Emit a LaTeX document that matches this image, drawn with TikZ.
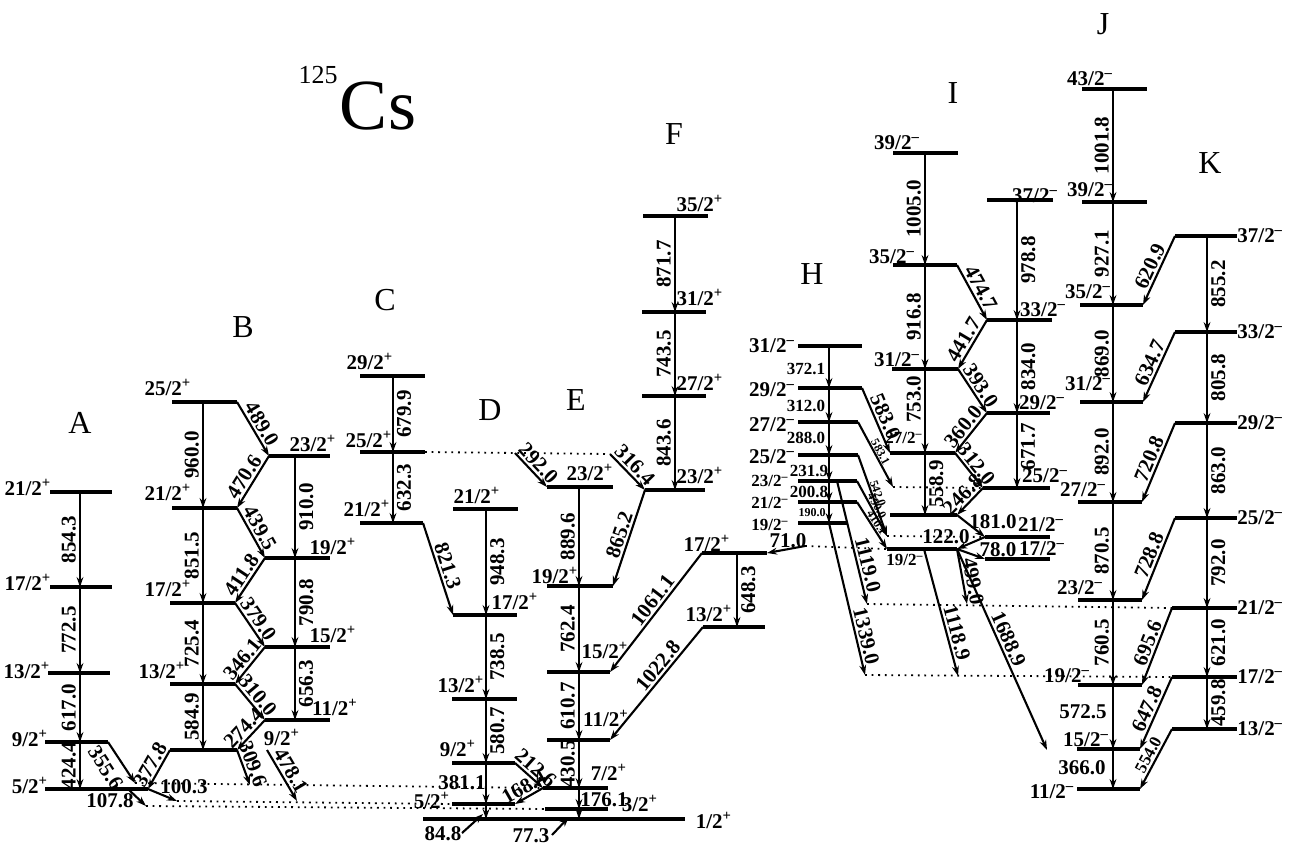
\documentclass[tikz,border=0pt]{standalone}
\usepackage{fontspec}
\setmainfont{Liberation Serif}
\usetikzlibrary{arrows.meta}

\newcommand{\elab}{\bfseries\fontsize{10.5}{10.5}\selectfont}
\newcommand{\slab}{\bfseries\fontsize{10.5}{10.5}\selectfont}
\newcommand{\hlab}{\bfseries\fontsize{8.5}{8.5}\selectfont}
\newcommand{\mlab}{\bfseries\fontsize{6}{6}\selectfont}
\newcommand{\jpos}[1]{#1\textsuperscript{+}}
\newcommand{\jneg}[1]{#1\textsuperscript{--}}
\newcommand{\lvl}[4]{\draw[lev] (#2,#4) coordinate (#1-l) -- (#3,#4) coordinate (#1-r);}

\begin{document}
\begin{tikzpicture}[x=0.5pt, y=-0.5pt,
    lev/.style={line width=1.7pt},
    tr/.style={line width=1.05pt, -{Stealth[length=5pt, width=3.4pt]}},
    dotl/.style={line width=0.9pt, dash pattern=on 0.9pt off 2.4pt},
    vl/.style={midway, rotate=90, anchor=south, inner sep=1.5pt, font=\elab},
    vr/.style={midway, rotate=90, anchor=north, inner sep=1.5pt, font=\elab},
    dl/.style={midway, sloped, above, inner sep=1pt, font=\elab},
    hl/.style={inner sep=0pt, font=\elab},
    sl/.style={inner sep=0pt, font=\slab},
    hs/.style={inner sep=0pt, font=\hlab},
    minil/.style={midway, sloped, above, inner sep=0.3pt, font=\mlab},
    bandname/.style={font=\fontsize{16}{16}\selectfont},
]
\useasboundingbox (0,0) rectangle (1290,846);

% Title and band names
\node (cs) at (378,106) {\fontsize{36}{36}\selectfont Cs};
\node (mass) at (318,75) {\fontsize{13}{13}\selectfont 125};
\node[bandname] (bA) at (80,423) {A};
\node[bandname] (bB) at (243,327) {B};
\node[bandname] (bC) at (385,300) {C};
\node[bandname] (bD) at (490,410) {D};
\node[bandname] (bE) at (576,400) {E};
\node[bandname] (bF) at (674,134) {F};
\node[bandname] (bH) at (812,274) {H};
\node[bandname] (bI) at (953,93) {I};
\node[bandname] (bJ) at (1103,24) {J};
\node[bandname] (bK) at (1210,163) {K};

% Levels
\lvl{A21}{50}{112}{492}
\lvl{A17}{50}{112}{587}
\lvl{A13}{48}{110}{673}
\lvl{A9}{45}{108}{742}
\lvl{A5}{45}{148}{789}
\lvl{B25}{172}{237}{402}
\lvl{B21}{172}{237}{508}
\lvl{B17}{170}{235}{603}
\lvl{B13}{170}{235}{684}
\lvl{B9}{170}{237}{750}
\lvl{B23}{269}{330}{456}
\lvl{B19}{265}{330}{558}
\lvl{B15}{265}{330}{647}
\lvl{B11}{265}{330}{720}
\lvl{C29}{360}{425}{376}
\lvl{C25}{360}{425}{452}
\lvl{C21}{360}{423}{523}
\lvl{D21}{453}{518}{509}
\lvl{D17}{453}{517}{615}
\lvl{D13}{452}{517}{699}
\lvl{D9}{452}{515}{763}
\lvl{D5}{452}{515}{804}
\lvl{G1}{423}{685}{819}
\lvl{E23}{547}{613}{487}
\lvl{E19}{547}{613}{586}
\lvl{E15}{547}{610}{672}
\lvl{E11}{547}{610}{740}
\lvl{E7}{543}{608}{788}
\lvl{E3}{545}{608}{809}
\lvl{F35}{643}{708}{216}
\lvl{F31}{642}{706}{312}
\lvl{F27}{642}{706}{396}
\lvl{F23}{645}{705}{490}
\lvl{P17}{702}{767}{553}
\lvl{P13}{703}{765}{627}
\lvl{H31}{798}{862}{346}
\lvl{H29}{798}{862}{388}
\lvl{H27}{798}{858}{422}
\lvl{H25}{798}{858}{455}
\lvl{H23}{798}{857}{481}
\lvl{H21}{798}{857}{502}
\lvl{H19}{798}{847}{523}
\lvl{I39}{893}{958}{153}
\lvl{I35}{893}{957}{265}
\lvl{I31}{892}{958}{369}
\lvl{I27}{890}{955}{453}
\lvl{I23}{890}{957}{515}
\lvl{I19}{887}{957}{549}
\lvl{I37}{987}{1053}{200}
\lvl{I33}{987}{1052}{320}
\lvl{I29}{987}{1050}{413}
\lvl{I25}{983}{1050}{488}
\lvl{I21}{985}{1050}{537}
\lvl{I17}{985}{1050}{559}
\lvl{J43}{1082}{1147}{89}
\lvl{J39}{1082}{1147}{202}
\lvl{J35}{1080}{1143}{305}
\lvl{J31}{1080}{1143}{402}
\lvl{J27}{1078}{1142}{502}
\lvl{J23}{1078}{1142}{600}
\lvl{J19}{1078}{1142}{685}
\lvl{J15}{1077}{1140}{749}
\lvl{J11}{1077}{1140}{789}
\lvl{K37}{1175}{1237}{236}
\lvl{K33}{1175}{1237}{332}
\lvl{K29}{1175}{1237}{423}
\lvl{K25}{1175}{1237}{518}
\lvl{K21}{1172}{1237}{608}
\lvl{K17}{1172}{1237}{677}
\lvl{K13}{1172}{1237}{729}

% Spin labels
\node[sl] (sA21) at (28,487) {\jpos{21/2}};
\node[sl] (sA17) at (28,582) {\jpos{17/2}};
\node[sl] (sA13) at (27,670) {\jpos{13/2}};
\node[sl] (sA9) at (30,738) {\jpos{9/2}};
\node[sl] (sA5) at (30,785) {\jpos{5/2}};
\node[sl] (sB25) at (168,387) {\jpos{25/2}};
\node[sl] (sB21) at (168,492) {\jpos{21/2}};
\node[sl] (sB17) at (168,588) {\jpos{17/2}};
\node[sl] (sB13) at (162,670) {\jpos{13/2}};
\node[sl] (sB23) at (313,443) {\jpos{23/2}};
\node[sl] (sB19) at (333,546) {\jpos{19/2}};
\node[sl] (sB15) at (333,634) {\jpos{15/2}};
\node[sl] (sB11) at (335,707) {\jpos{11/2}};
\node[sl] (sB9) at (282,737) {\jpos{9/2}};
\node[sl] (sC29) at (370,361) {\jpos{29/2}};
\node[sl] (sC25) at (369,439) {\jpos{25/2}};
\node[sl] (sC21) at (367,508) {\jpos{21/2}};
\node[sl] (sD21) at (477,495) {\jpos{21/2}};
\node[sl] (sD17) at (515,601) {\jpos{17/2}};
\node[sl] (sD13) at (461,684) {\jpos{13/2}};
\node[sl] (sD9) at (458,748) {\jpos{9/2}};
\node[sl] (sD5) at (432,800) {\jpos{5/2}};
\node[sl] (sE23) at (590,472) {\jpos{23/2}};
\node[sl] (sE19) at (555,575) {\jpos{19/2}};
\node[sl] (sE15) at (605,650) {\jpos{15/2}};
\node[sl] (sE11) at (606,718) {\jpos{11/2}};
\node[sl] (sE7) at (609,772) {\jpos{7/2}};
\node[sl] (sE3) at (640,803) {\jpos{3/2}};
\node[sl] (sG1) at (714,820) {\jpos{1/2}};
\node[sl] (sF35) at (700,203) {\jpos{35/2}};
\node[sl] (sF31) at (700,297) {\jpos{31/2}};
\node[sl] (sF27) at (700,382) {\jpos{27/2}};
\node[sl] (sF23) at (700,475) {\jpos{23/2}};
\node[sl] (sP17) at (707,543) {\jpos{17/2}};
\node[sl] (sP13) at (709,613) {\jpos{13/2}};
\node[sl] (sH31) at (772,346) {\jneg{31/2}};
\node[sl] (sH29) at (772,390) {\jneg{29/2}};
\node[sl] (sH27) at (772,425) {\jneg{27/2}};
\node[sl] (sH25) at (772,457) {\jneg{25/2}};
\node[hs] (sH23) at (770,481) {\jneg{23/2}};
\node[hs] (sH21) at (770,503) {\jneg{21/2}};
\node[hs] (sH19) at (770,525) {\jneg{19/2}};
\node[sl] (sI39) at (897,143) {\jneg{39/2}};
\node[sl] (sI35) at (892,257) {\jneg{35/2}};
\node[sl] (sI37) at (1035,196) {\jneg{37/2}};
\node[sl] (sI33) at (1043,310) {\jneg{33/2}};
\node[sl] (sI31) at (897,360) {\jneg{31/2}};
\node[sl] (sI29) at (1042,403) {\jneg{29/2}};
\node[hs] (sI27) at (904,438) {\jneg{27/2}};
\node[sl] (sI25) at (1045,476) {\jneg{25/2}};
\node[sl] (sI21) at (1041,525) {\jneg{21/2}};
\node[hs] (sI19) at (905,560) {\jneg{19/2}};
\node[sl] (sI17) at (1042,549) {\jneg{17/2}};
\node[sl] (sJ43) at (1090,79) {\jneg{43/2}};
\node[sl] (sJ39) at (1090,190) {\jneg{39/2}};
\node[sl] (sJ35) at (1088,292) {\jneg{35/2}};
\node[sl] (sJ31) at (1088,384) {\jneg{31/2}};
\node[sl] (sJ27) at (1083,490) {\jneg{27/2}};
\node[sl] (sJ23) at (1080,588) {\jneg{23/2}};
\node[sl] (sJ19) at (1067,676) {\jneg{19/2}};
\node[sl] (sJ15) at (1086,740) {\jneg{15/2}};
\node[sl] (sJ11) at (1052,792) {\jneg{11/2}};
\foreach \k/\j in {37/37,33/33,29/29,25/25,21/21,17/17,13/13}
  \node[sl, anchor=west] (sK\k) at (K\k-r) {\jneg{\j/2}};

% Band crossings
\coordinate (xA) at (80,0);
\coordinate (xBl) at (203,0);
\coordinate (xBr) at (295,0);
\coordinate (xC) at (393,0);
\coordinate (xD) at (486,0);
\coordinate (xE) at (579,0);
\coordinate (xF) at (675,0);
\coordinate (xP) at (737,0);
\coordinate (xH) at (829,0);
\coordinate (xIl) at (925,0);
\coordinate (xIr) at (1017,0);
\coordinate (xJ) at (1113,0);
\coordinate (xK) at (1207,0);
\coordinate (x1119) at (837,0);
\coordinate (x1118) at (924,0);

% Free ends
\coordinate (q7a) at (135,783);
\coordinate (q7b) at (250,785);
\coordinate (q5a) at (177,801);
\coordinate (q5b) at (297,801);
\coordinate (q3a) at (146,806);
\coordinate (p107) at (128,789);
\coordinate (p478) at (267,750);
\coordinate (q292) at (515,453);
\coordinate (q316) at (610,454);
\coordinate (p848) at (462,833);
\coordinate (q848) at (483,814);
\coordinate (p773) at (552,835);
\coordinate (q773) at (569,817);
\coordinate (q71) at (805,546);
\coordinate (q25a) at (893,487);
\coordinate (q21a) at (887,536);
\coordinate (q23a) at (867,604);
\coordinate (q23b) at (967,604);
\coordinate (q19a) at (865,675);
\coordinate (q19b) at (958,676);
\coordinate (q15a) at (1047,750);

% Dotted links
\draw[dotl] (q7a) -- (E7-l);
\draw[dotl] (q5a) -- (D5-l);
\draw[dotl] (q3a) -- (E3-l);
\draw[dotl] (C25-r) -- (q316);
\draw[dotl] (q71) -- (I19-l);
\draw[dotl] (q25a) -- (I25-l);
\draw[dotl] (q21a) -- (I21-l);
\draw[dotl] (q23a) -- (K21-l);
\draw[dotl] (q19a) -- (K17-l);

% Band A
\draw[tr] (A21-l -| xA) -- (A17-l -| xA) node[vl]{854.3};
\draw[tr] (A17-l -| xA) -- (A13-l -| xA) node[vl]{772.5};
\draw[tr] (A13-l -| xA) -- (A9-l -| xA) node[vl]{617.0};
\draw[tr] (A9-l -| xA) -- (A5-l -| xA) node[vl]{424.4};
\draw[tr] (A9-r) -- (q7a);
\node[hl, rotate=-57] (e3556) at (106,768) {355.6};
\draw[tr] (A5-r) -- (q5a);
\node[hl] (e1003) at (184,787) {100.3};
\draw[tr] (p107) -- (q3a);
\node[hl] (e1078) at (110,801) {107.8};

% Band B
\draw[tr] (B25-l -| xBl) -- (B21-l -| xBl) node[vl]{960.0};
\draw[tr] (B21-l -| xBl) -- (B17-l -| xBl) node[vl]{851.5};
\draw[tr] (B17-l -| xBl) -- (B13-l -| xBl) node[vl]{725.4};
\draw[tr] (B13-l -| xBl) -- (B9-l -| xBl) node[vl]{584.9};
\draw[tr] (B23-l -| xBr) -- (B19-l -| xBr) node[vr]{910.0};
\draw[tr] (B19-l -| xBr) -- (B15-l -| xBr) node[vr]{790.8};
\draw[tr] (B15-l -| xBr) -- (B11-l -| xBr) node[vr]{656.3};
\draw[tr] (B25-r) -- (B23-l) node[dl]{489.0};
\draw[tr] (B23-l) -- (B21-r) node[dl]{470.6};
\draw[tr] (B21-r) -- (B19-l) node[dl]{439.5};
\draw[tr] (B19-l) -- (B17-r) node[dl]{411.8};
\draw[tr] (B17-r) -- (B15-l) node[dl]{379.0};
\draw[tr] (B15-l) -- (B13-r) node[dl]{346.1};
\draw[tr] (B13-r) -- (B11-l) node[dl]{310.0};
\draw[tr] (B11-l) -- (B9-r) node[dl]{274.4};
\draw[tr] (B9-l) -- (A5-r) node[dl]{377.8};
\draw[tr] (B9-r) -- (q7b) node[dl]{309.6};
\draw[tr] (p478) -- (q5b) node[dl]{478.1};

% Band C
\draw[tr] (C29-l -| xC) -- (C25-l -| xC) node[vr]{679.9};
\draw[tr] (C25-l -| xC) -- (C21-l -| xC) node[vr]{632.3};
\draw[tr] (C21-r) -- (D17-l) node[dl]{821.3};

% Band D
\draw[tr] (D21-l -| xD) -- (D17-l -| xD) node[vr]{948.3};
\draw[tr] (D17-l -| xD) -- (D13-l -| xD) node[vr]{738.5};
\draw[tr] (D13-l -| xD) -- (D9-l -| xD) node[vr]{580.7};
\draw[tr] (D9-l -| xD) -- (D5-l -| xD);
\node[hl] (e3811) at (462,783) {381.1};
\draw[tr] (D5-l -| xD) -- (G1-l -| xD);
\draw[tr] (D9-r) -- (E7-l) node[dl]{212.6};
\draw[tr] (E7-l) -- (D5-r) node[dl]{168.4};
\draw[tr] (p848) -- (q848);
\node[sl] (e848) at (443,834) {84.8};
\draw[tr] (p773) -- (q773);
\node[sl] (e773) at (531,836) {77.3};

% Band E
\draw[tr] (E23-l -| xE) -- (E19-l -| xE) node[vl]{889.6};
\draw[tr] (E19-l -| xE) -- (E15-l -| xE) node[vl]{762.4};
\draw[tr] (E15-l -| xE) -- (E11-l -| xE) node[vl]{610.7};
\draw[tr] (E11-l -| xE) -- (E7-l -| xE) node[vl]{430.5};
\draw[tr] (E7-l -| xE) -- (E3-l -| xE);
\node[hl] (e1761) at (604,800) {176.1};
\draw[tr] (E3-l -| xE) -- (G1-l -| xE);
\draw[tr] (q292) -- (E23-l) node[dl]{292.0};
\draw[tr] (q316) -- (F23-l) node[dl]{316.4};
\draw[tr] (F23-l) -- (E19-r) node[dl]{865.2};
\draw[tr] (P17-l) -- (E15-r) node[dl, pos=0.45]{1061.1};
\draw[tr] (P13-l) -- (E11-r) node[dl, pos=0.4]{1022.8};

% Band F
\draw[tr] (F35-l -| xF) -- (F31-l -| xF) node[vl]{871.7};
\draw[tr] (F31-l -| xF) -- (F27-l -| xF) node[vl]{743.5};
\draw[tr] (F27-l -| xF) -- (F23-l -| xF) node[vl]{843.6};
\draw[tr] (P17-l -| xP) -- (P13-l -| xP) node[vr]{648.3};
\draw[tr] (q71) -- (P17-r);
\node[hl] (e710) at (788,541) {71.0};

% Band H
\draw[tr] (H31-l -| xH) -- (H29-l -| xH);
\draw[tr] (H29-l -| xH) -- (H27-l -| xH);
\draw[tr] (H27-l -| xH) -- (H25-l -| xH);
\draw[tr] (H25-l -| xH) -- (H23-l -| xH);
\draw[tr] (H23-l -| xH) -- (H21-l -| xH);
\draw[tr] (H21-l -| xH) -- (H19-l -| xH);
\node[hs] (e3721) at (806,369) {372.1};
\node[hs] (e3120) at (806,406) {312.0};
\node[hs] (e2880) at (806,438) {288.0};
\node[hs] (e2319) at (809,471) {231.9};
\node[hs] (e2008) at (809,492) {200.8};
\node[inner sep=0pt, font=\mlab] (e1900) at (812,513) {190.0};
\draw[tr] (H19-l -| xH) -- (q19a) node[dl, pos=0.76]{1339.0};
\draw[tr] (H23-l -| x1119) -- (q23a) node[dl, pos=0.7]{1119.0};
\draw[tr] (H29-r) -- (I27-l) node[dl]{583.0};
\draw[tr] (H27-r) -- (q25a) node[minil]{583.1};
\draw[tr] (H25-r) -- (q21a) node[minil]{542.0};
\draw[tr] (H23-r) -- (q21a) node[minil]{490.0};
\draw[tr] (H21-r) -- (I19-l) node[minil]{410.1};

% Band I
\draw[tr] (I39-l -| xIl) -- (I35-l -| xIl) node[vl]{1005.0};
\draw[tr] (I35-l -| xIl) -- (I31-l -| xIl) node[vl]{916.8};
\draw[tr] (I31-l -| xIl) -- (I27-l -| xIl) node[vl, pos=0.36]{753.0};
\draw[tr] (I27-l -| xIl) -- (I23-l -| xIl) node[vr]{558.9};
\draw[tr] (I37-l -| xIr) -- (I33-l -| xIr) node[vr]{978.8};
\draw[tr] (I33-l -| xIr) -- (I29-l -| xIr) node[vr]{834.0};
\draw[tr] (I29-l -| xIr) -- (I25-l -| xIr) node[vr, pos=0.45]{671.7};
\draw[tr] (I35-r) -- (I33-l) node[dl]{474.7};
\draw[tr] (I33-l) -- (I31-r) node[dl]{441.7};
\draw[tr] (I31-r) -- (I29-l) node[dl]{393.0};
\draw[tr] (I29-l) -- (I27-r) node[dl]{360.0};
\draw[tr] (I27-r) -- (I25-l) node[dl]{312.0};
\draw[tr] (I25-l) -- (I23-r) node[dl]{246.8};
\draw[tr] (I23-r) -- (I21-l);
\node[hl] (e1810) at (993,522) {181.0};
\draw[tr] (I21-l) -- (I19-r);
\node[hl] (e1220) at (946,537) {122.0};
\draw[tr] (I19-r) -- (I17-l);
\node[hl] (e780) at (998,550) {78.0};
\draw[tr] (I19-l -| x1118) -- (q19b) node[dl, pos=0.68]{1118.9};
\draw[tr] (I19-r) -- (q23b) node[dl, pos=0.62]{499.0};
\draw[tr] (I19-r) -- (q15a) node[dl, pos=0.47]{1688.9};

% Band J
\draw[tr] (J43-l -| xJ) -- (J39-l -| xJ) node[vl]{1001.8};
\draw[tr] (J39-l -| xJ) -- (J35-l -| xJ) node[vl]{927.1};
\draw[tr] (J35-l -| xJ) -- (J31-l -| xJ) node[vl]{869.0};
\draw[tr] (J31-l -| xJ) -- (J27-l -| xJ) node[vl]{892.0};
\draw[tr] (J27-l -| xJ) -- (J23-l -| xJ) node[vl]{870.5};
\draw[tr] (J23-l -| xJ) -- (J19-l -| xJ) node[vl]{760.5};
\draw[tr] (J19-l -| xJ) -- (J15-l -| xJ);
\node[hl] (e5725) at (1083,712) {572.5};
\draw[tr] (J15-l -| xJ) -- (J11-l -| xJ);
\node[hl] (e3660) at (1082,768) {366.0};

% Band K
\draw[tr] (K37-l -| xK) -- (K33-l -| xK) node[vr]{855.2};
\draw[tr] (K33-l -| xK) -- (K29-l -| xK) node[vr]{805.8};
\draw[tr] (K29-l -| xK) -- (K25-l -| xK) node[vr]{863.0};
\draw[tr] (K25-l -| xK) -- (K21-l -| xK) node[vr]{792.0};
\draw[tr] (K21-l -| xK) -- (K17-l -| xK) node[vr]{621.0};
\draw[tr] (K17-l -| xK) -- (K13-l -| xK) node[vr]{459.8};
\draw[tr] (K37-l) -- (J35-r) node[dl]{620.9};
\draw[tr] (K33-l) -- (J31-r) node[dl]{634.7};
\draw[tr] (K29-l) -- (J27-r) node[dl]{720.8};
\draw[tr] (K25-l) -- (J23-r) node[dl]{728.8};
\draw[tr] (K21-l) -- (J19-r) node[dl]{695.6};
\draw[tr] (K17-l) -- (J15-r) node[dl]{647.8};
\draw[tr] (K13-l) -- (J11-r) node[dl, font=\hlab]{554.0};

\end{tikzpicture}
\end{document}
